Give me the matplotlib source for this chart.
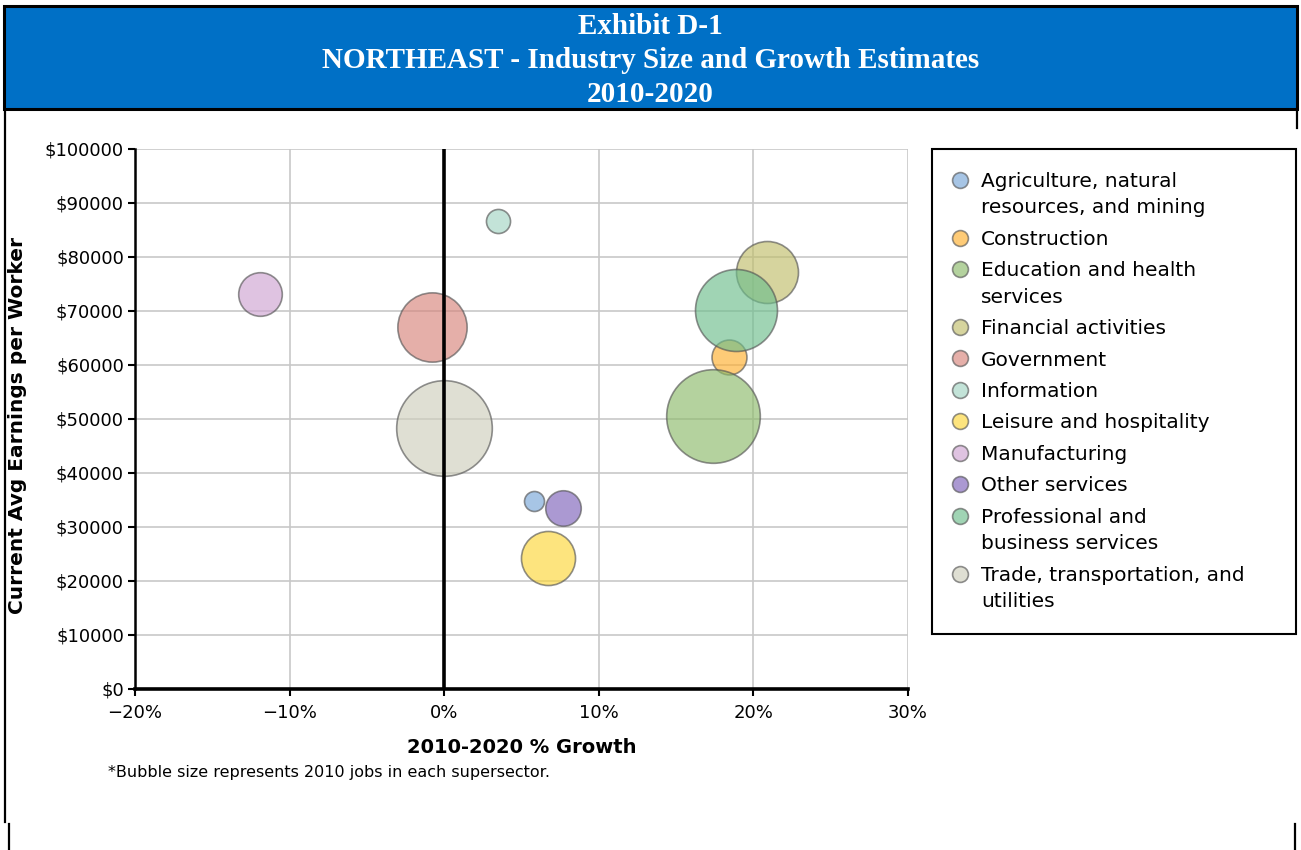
import matplotlib.pyplot as plt
from matplotlib.patches import Rectangle
from matplotlib.lines import Line2D
from matplotlib.legend_handler import HandlerPathCollection

# supersectors (legend order)
sectors = ["Agriculture, natural\nresources, and mining", "Construction",
           "Education and health\nservices", "Financial activities", "Government",
           "Information", "Leisure and hospitality", "Manufacturing", "Other services",
           "Professional and\nbusiness services", "Trade, transportation, and\nutilities"]
growth = [5.8, 18.4, 17.4, 20.9, -0.8, 3.5, 6.7, -11.9, 7.7, 18.9, 0.0]          # %
earnings = [34900, 61400, 50600, 77200, 67100, 86700, 24300, 73100, 33500, 70100, 48300]
jobs = [2.0, 6.1, 43.8, 19.2, 24.0, 2.9, 14.6, 9.5, 6.3, 33.6, 45.7]           # 2010 jobs (thousands)
colors = ["#79a7d8", "#feaf2f", "#8dbb6b", "#c0bd6a", "#d7857c", "#a3d4c3",
          "#fcd639", "#cea4d2", "#7e62ba", "#6dbe8c", "#cecebc"]

xticks = [-20, -10, 0, 10, 20, 30]
yticks = list(range(0, 100001, 10000))

plt.rcParams['font.family'] = 'DejaVu Sans'
fig = plt.figure(figsize=(13.01, 8.5), dpi=100)

# header band
fig.patches.append(Rectangle((4/1301, 1-109/850), 1293/1301, 103/850, transform=fig.transFigure,
                             facecolor="#0070c6", edgecolor="black", linewidth=2.2))
fig.text(0.5, 1-13/850, "Exhibit D-1\nNORTHEAST - Industry Size and Growth Estimates\n2010-2020",
         ha="center", va="top", color="white", fontsize=21, fontweight="bold",
         family="Liberation Serif", linespacing=1.33)
# table cell borders
fig.add_artist(Line2D([5/1301, 5/1301], [1-109/850, 1-822/850], color="black", lw=1.6))
fig.add_artist(Line2D([9/1301, 9/1301], [1-824/850, 0], color="black", lw=1.6))
fig.add_artist(Line2D([1297/1301, 1297/1301], [1-109/850, 1-128/850], color="black", lw=1.6))
fig.add_artist(Line2D([1295/1301, 1295/1301], [1-824/850, 0], color="black", lw=1.6))

ax = fig.add_axes([135/1301, 1-689/850, 773/1301, 540/850])

sizes = [j * 103.7 for j in jobs]
handles = []
for i in range(len(sectors)):
    h = ax.scatter(growth[i], earnings[i], s=sizes[i], color=colors[i], alpha=0.65,
                   edgecolors="#555555", linewidths=1.2, label=sectors[i], zorder=3)
    handles.append(h)

ax.axvline(0, color="black", lw=2.6, zorder=4)
ax.set_xlim(-20, 30)
ax.set_ylim(0, 100000)
ax.set_xticks(xticks)
ax.set_xticklabels([("\u2212" if v < 0 else "") + f"{abs(v)}%" for v in xticks])
ax.set_yticks(yticks)
ax.set_yticklabels([f"${v}" for v in yticks])
ax.grid(True, color="#c8c8c8", lw=1.2, zorder=0)
ax.set_axisbelow(True)
for s in ["top", "right"]:
    ax.spines[s].set_visible(False)
ax.spines["left"].set_linewidth(1.8)
ax.spines["bottom"].set_linewidth(2.6)
ax.tick_params(labelsize=13, length=5, width=1.5, direction="out")
ax.tick_params(axis="x", pad=6)
ax.tick_params(axis="y", pad=3)

ax.set_xlabel("2010-2020 % Growth", fontsize=14, fontweight="bold", labelpad=11)
fig.text(18/1301, 1-425/850, "Current Avg Earnings per Worker", rotation=90, ha="center",
         va="center", fontsize=14.5, fontweight="bold")
fig.text(108/1301, 1-772/850, "*Bubble size represents 2010 jobs in each supersector.",
         ha="left", va="center", fontsize=11.5)

# markers sit on the first line of wrapped labels
hmap = {}
for h, lab in zip(handles, sectors):
    hmap[h] = HandlerPathCollection(yoffsets=[1.57] if "\n" in lab else [0.5])

leg = fig.legend(handles=handles, labels=sectors, handler_map=hmap,
                 loc="upper left", bbox_to_anchor=(932/1301, 1-630/850, 364/1301, 481/850),
                 mode="expand", fontsize=14.5,
                 frameon=True, fancybox=False, edgecolor="black", framealpha=1,
                 scatterpoints=1, borderpad=1.15, labelspacing=0.62, handletextpad=0.85,
                 borderaxespad=0, handlelength=0.45)
leg.get_frame().set_linewidth(1.5)
for t in leg.get_texts():
    t.set_linespacing(1.48)
for h in leg.legend_handles:
    h.set_sizes([130])
    h.set_alpha(0.65)

fig.savefig("out.png", dpi=100)
